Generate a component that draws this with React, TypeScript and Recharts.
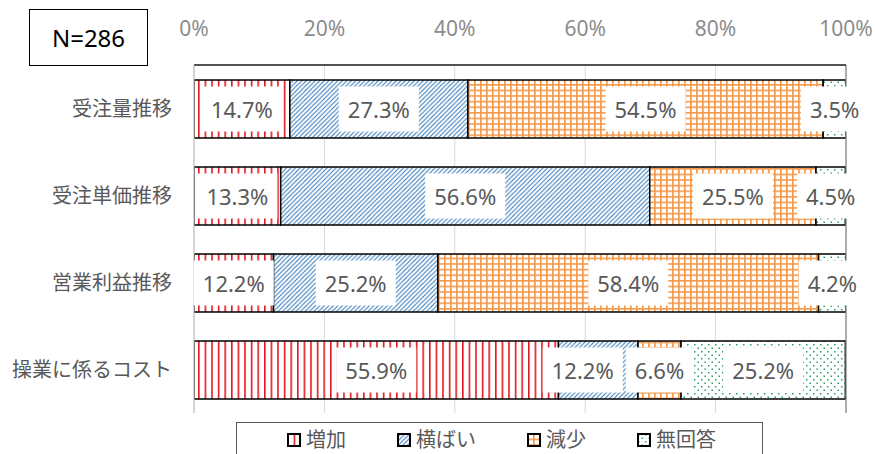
import React from 'react';
import { BarChart, Bar, XAxis, YAxis, CartesianGrid, Legend, LabelList, ReferenceLine } from 'recharts';

const categories = ['受注量推移', '受注単価推移', '営業利益推移', '操業に係るコスト'];
const increase = [14.7, 13.3, 12.2, 55.9];
const flat = [27.3, 56.6, 25.2, 12.2];
const decrease = [54.5, 25.5, 58.4, 6.6];
const noAnswer = [3.5, 4.5, 4.2, 25.2];
const seriesNames = ['増加', '横ばい', '減少', '無回答'];
const xTicks = [0, 20, 40, 60, 80, 100];
const sampleLabel = 'N=286';

const seriesKeys = ['inc', 'flat', 'dec', 'na'];
const patternIds = ['pInc', 'pFlat', 'pDec', 'pNa'];
const seriesValues = [increase, flat, decrease, noAnswer];

const data = categories.map((name, i) => ({
  name,
  inc: increase[i],
  flat: flat[i],
  dec: decrease[i],
  na: noAnswer[i],
}));

const FONT = '"Noto Sans", "Noto Sans CJK JP", sans-serif';
const LABEL_SIZE = 22;

const charW = (ch: string) => {
  if (ch === '.') return 0.268;
  if (ch === '%') return 0.838;
  return 0.572;
};
const textWidth = (t: string, size: number) => t.split('').reduce((s, c) => s + charW(c), 0) * size;

const RowLabels = (props: any) => {
  const vb = props.viewBox ?? props;
  const x = Number(vb.x);
  const y = Number(vb.y);
  const w = Number(vb.width);
  const h = Number(vb.height);
  const idx = typeof props.index === 'number' ? props.index : 0;
  const vals = seriesValues.map((s) => s[idx]);
  const last = vals[vals.length - 1];
  if (!last || !isFinite(w)) return null;
  const ppu = w / last;
  const start = x - (vals[0] + vals[1] + vals[2]) * ppu;
  let cum = 0;
  const boxes = vals.map((v) => {
    const c = start + (cum + v / 2) * ppu;
    cum += v;
    const t = `${v.toFixed(1)}%`;
    const bw = textWidth(t, LABEL_SIZE) + 18;
    return { c, t, bw };
  });
  for (let i = boxes.length - 2; i >= 0; i--) {
    const overlap = boxes[i].c + boxes[i].bw / 2 - (boxes[i + 1].c - boxes[i + 1].bw / 2 - 3);
    if (overlap > 0) boxes[i].c -= overlap;
  }
  const bh = h - 13;
  const cy = y + h / 2;
  return (
    <g>
      {boxes.map((b, i) => (
        <g key={i}>
          <rect x={b.c - b.bw / 2} y={cy - bh / 2} width={b.bw} height={bh} fill="#ffffff" />
          <text
            x={b.c}
            y={cy}
            textAnchor="middle"
            dominantBaseline="central"
            fontSize={LABEL_SIZE}
            fontFamily={FONT}
            fill="#595959"
          >
            {b.t}
          </text>
        </g>
      ))}
    </g>
  );
};

const LegendContent = () => (
  <div style={{ position: 'relative', height: 41, width: 875, overflow: 'hidden' }}>
    <div
      style={{
        position: 'absolute',
        left: 236,
        top: 9,
        width: 527,
        height: 40,
        border: '1.5px solid #595959',
        boxSizing: 'border-box',
        background: '#fff',
      }}
    >
      <div
        style={{
          position: 'absolute',
          left: 50,
          top: 5,
          height: 24,
          display: 'flex',
          alignItems: 'center',
          gap: 51,
          fontFamily: FONT,
          fontSize: 20,
          color: '#595959',
          whiteSpace: 'nowrap',
        }}
      >
        {seriesNames.map((n, i) => (
          <div key={n} style={{ display: 'flex', alignItems: 'center', gap: 5 }}>
            <svg width={14} height={14} style={{ display: 'block' }}>
              <rect x={1} y={1} width={12} height={12} fill={`url(#${patternIds[i]})`} stroke="#000" strokeWidth={2} />
            </svg>
            <span style={{ lineHeight: '24px' }}>{n}</span>
          </div>
        ))}
      </div>
    </div>
  </div>
);

export default function App() {
  return (
    <div style={{ position: 'absolute', left: 0, top: 0, width: 875, height: 454, background: '#fff' }}>
      <BarChart
        width={875}
        height={454}
        data={data}
        layout="vertical"
        margin={{ top: 35, right: 29, bottom: 0, left: 0 }}
        style={{ fontFamily: FONT }}
      >
        <defs>
          <pattern id="pInc" patternUnits="userSpaceOnUse" width={6.6} height={10}>
            <rect width={6.6} height={10} fill="#ffffff" />
            <rect x={0} y={0} width={1.6} height={10} fill="#e3161e" />
          </pattern>
          <pattern id="pFlat" patternUnits="userSpaceOnUse" width={4.5} height={4.5}>
            <rect width={4.5} height={4.5} fill="#ffffff" />
            <path d="M-1,1 L1,-1 M0,4.5 L4.5,0 M3.5,5.5 L5.5,3.5" stroke="#2e75b6" strokeWidth={1} />
          </pattern>
          <pattern id="pDec" patternUnits="userSpaceOnUse" width={6} height={5.6}>
            <rect width={6} height={5.6} fill="#ffffff" />
            <rect x={0} y={0} width={1.7} height={5.6} fill="#f39a4c" />
            <rect x={0} y={0} width={6} height={1.6} fill="#f39a4c" />
          </pattern>
          <pattern id="pNa" patternUnits="userSpaceOnUse" width={7} height={7}>
            <rect width={7} height={7} fill="#ffffff" />
            <rect x={1} y={1} width={1.5} height={1.5} fill="#1fa463" />
            <rect x={4.5} y={4.5} width={1.5} height={1.5} fill="#1fa463" />
          </pattern>
        </defs>
        <CartesianGrid horizontal={false} vertical stroke="#d9d9d9" strokeWidth={1} />
        <XAxis
          type="number"
          orientation="top"
          domain={[0, 100]}
          ticks={xTicks}
          tickFormatter={(v: number) => `${v}%`}
          height={30}
          tickLine={false}
          tickSize={0}
          tickMargin={29}
          axisLine={{ stroke: '#1a1a1a', strokeWidth: 1.3 }}
          tick={{ fontSize: 21, fill: '#8c8c8c', fontFamily: FONT }}
          interval={0}
          allowDataOverflow
        />
        <XAxis
          xAxisId="b"
          type="number"
          orientation="bottom"
          domain={[0, 100]}
          height={0}
          tick={false}
          tickLine={false}
          axisLine={{ stroke: '#8c8c8c', strokeWidth: 1.3 }}
        />
        <YAxis
          type="category"
          dataKey="name"
          width={194}
          tickLine={false}
          tickSize={0}
          tickMargin={22}
          axisLine={{ stroke: '#bfbfbf' }}
          tick={{ fontSize: 20, fill: '#595959', fontFamily: FONT }}
          interval={0}
        />
        <ReferenceLine x={100} stroke="#8c8c8c" strokeWidth={1.3} ifOverflow="extendDomain" />
        {seriesKeys.map((k, i) => (
          <Bar
            key={k}
            dataKey={k}
            name={seriesNames[i]}
            stackId="s"
            barSize={58}
            fill={`url(#${patternIds[i]})`}
            stroke="#000000"
            strokeWidth={1.5}
            isAnimationActive={false}
          >
            {i === seriesKeys.length - 1 && <LabelList dataKey={k} content={RowLabels} />}
          </Bar>
        ))}
        <Legend verticalAlign="bottom" content={LegendContent} />
      </BarChart>
      <div
        style={{
          position: 'absolute',
          left: 29,
          top: 9,
          width: 119,
          height: 57,
          border: '1.5px solid #000',
          boxSizing: 'border-box',
          display: 'flex',
          alignItems: 'center',
          justifyContent: 'center',
          fontFamily: FONT,
          fontSize: 24,
          color: '#000',
          background: '#fff',
        }}
      >
        {sampleLabel}
      </div>
    </div>
  );
}
